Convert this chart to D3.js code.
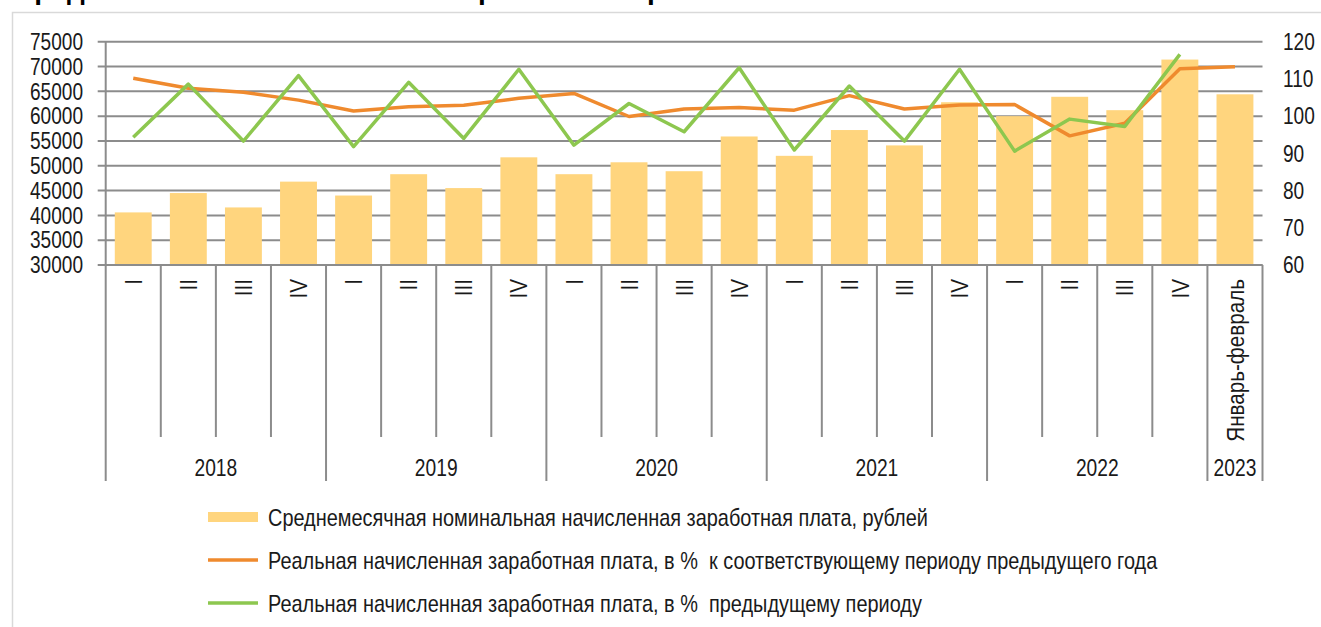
<!DOCTYPE html>
<html lang="ru">
<head>
<meta charset="utf-8">
<title>Заработная плата</title>
<script src="https://d3js.org/d3.v7.min.js"></script>
<style>
  body{margin:0;background:#fff;}
  svg text{font-family:"Liberation Sans Narrow","Arial Narrow","Liberation Sans",Arial,sans-serif;fill:#1a1a1a;white-space:pre;}
</style>
</head>
<body>
<div id="chart"></div>
<script>
// data
var categories = ["I","II","III","IV","I","II","III","IV","I","II","III","IV",
                  "I","II","III","IV","I","II","III","IV","Январь-февраль"]
var years = ["2018","2019","2020","2021","2022","2023"]
var yearSpan = [4,4,4,4,4,1]
var nominalWage = [40600,44500,41600,46800,44000,48300,45500,51700,48300,50700,48900,55900,
                   52000,57200,54100,62800,60000,63900,61200,71400,64400]
var realYoY = [110.2,107.5,106.4,104.3,101.4,102.5,102.9,104.8,106.1,99.9,101.9,102.3,
               101.6,105.5,101.9,103.0,103.1,94.7,98.1,112.7,113.3]
var realQoQ = [94.3,108.6,93.3,110.9,91.8,109.1,94.0,112.6,92.2,103.4,95.8,113.0,
               90.9,108.1,93.3,112.6,90.6,99.2,97.2,116.6,null]
var leftTicks = [30000,35000,40000,45000,50000,55000,60000,65000,70000,75000]
var rightTicks = [60,70,80,90,100,110,120]
var legendLabels = ["Среднемесячная номинальная начисленная заработная плата, рублей",
                    "Реальная начисленная заработная плата, в %  к соответствующему периоду предыдущего года",
                    "Реальная начисленная заработная плата, в %  предыдущему периоду"]

var W = 1321, H = 627
var plotL = 105.7, plotR = 1262.5, plotT = 41.7, plotB = 265
var barColor = "#FFD57E", orange = "#EF8A2E", green = "#8DC74F", gridColor = "#8c8c8c"

var svg = d3.select("#chart").append("svg").attr("width",W).attr("height",H)

// cut-off title (only its lower edge shows) and frame
svg.append("text").attr("x",14).attr("y",-1)
    .style("font-family","'Liberation Sans',Arial,sans-serif")
    .style("font-weight","bold").style("font-size","28px").style("fill","#000")
    .text("Среднемесячная номинальная и реальная заработная плата")
svg.append("rect").attr("x",12.5).attr("y",12.5).attr("width",1400).attr("height",700)
    .attr("fill","none").attr("stroke","#d9d9d9").attr("stroke-width",1.5)

var x = d3.scaleBand().domain(d3.range(categories.length)).range([plotL,plotR]).padding(0)
var yL = d3.scaleLinear().domain([30000,75000]).range([plotB,plotT])
var yR = d3.scaleLinear().domain([60,120]).range([plotB,plotT])
var bw = x.bandwidth()*0.67

// condensed look of the original font
function narrow(sel,tx,ty,rot,sx){
    sel.attr("transform","translate("+tx+","+ty+")"+(rot?" rotate("+rot+")":"")+" scale("+(sx||0.8)+",1)")
}

// gridlines
svg.append("g").selectAll("line").data(leftTicks).enter().append("line")
    .attr("x1",plotL-8).attr("x2",plotR)
    .attr("y1",function(d){return yL(d)}).attr("y2",function(d){return yL(d)})
    .attr("stroke",gridColor).attr("stroke-width",2)

// left labels
svg.append("g").selectAll("text").data(leftTicks).enter().append("text")
    .each(function(d){ narrow(d3.select(this),83,yL(d),0,0.83) })
    .attr("text-anchor","end").attr("dy","0.36em")
    .style("font-size","23px")
    .text(function(d){return d})

// right labels
svg.append("g").selectAll("text").data(rightTicks).enter().append("text")
    .each(function(d){ narrow(d3.select(this),1283,yR(d),0,0.83) })
    .attr("dy","0.36em").style("font-size","23px")
    .text(function(d){return d})

// bars
svg.append("g").selectAll("rect").data(nominalWage).enter().append("rect")
    .attr("x",function(d,i){return x(i)+(x.bandwidth()-bw)/2})
    .attr("width",bw)
    .attr("y",function(d){return yL(d)})
    .attr("height",function(d){return plotB-yL(d)})
    .attr("fill",barColor)

// axis lines
svg.append("line").attr("x1",plotL).attr("x2",plotL).attr("y1",plotT).attr("y2",plotB)
    .attr("stroke",gridColor).attr("stroke-width",2)
svg.append("line").attr("x1",plotL).attr("x2",plotR).attr("y1",plotB).attr("y2",plotB)
    .attr("stroke",gridColor).attr("stroke-width",2)

// category separators
var yearStart = [0]
yearSpan.forEach(function(n,i){ yearStart.push(yearStart[i]+n) })
var bounds = d3.range(categories.length+1)
function edge(i){ return i==categories.length ? plotR : x(i) }
svg.append("g").selectAll("line").data(bounds).enter().append("line")
    .attr("x1",edge).attr("x2",edge)
    .attr("y1",plotB)
    .attr("y2",function(d){return yearStart.indexOf(d)>=0 ? 481 : 437})
    .attr("stroke",gridColor).attr("stroke-width",2)

// category labels (vertical)
svg.append("g").selectAll("text").data(categories).enter().append("text")
    .each(function(d,i){ narrow(d3.select(this),x(i)+x.bandwidth()/2,279,-90,0.86) })
    .attr("text-anchor","end").attr("dy","0.36em")
    .style("font-size","24px")
    .text(function(d){return d})

// year labels
svg.append("g").selectAll("text").data(years).enter().append("text")
    .each(function(d,i){ narrow(d3.select(this),(edge(yearStart[i])+edge(yearStart[i+1]))/2,476) })
    .attr("text-anchor","middle")
    .style("font-size","24px")
    .text(function(d){return d})

// lines
var line = d3.line()
    .defined(function(d){return d!=null})
    .x(function(d,i){return x(i)+x.bandwidth()/2})
    .y(function(d){return yR(d)})
svg.append("path").datum(realYoY).attr("d",line)
    .attr("fill","none").attr("stroke",orange).attr("stroke-width",3.5).attr("stroke-linejoin","round")
svg.append("path").datum(realQoQ).attr("d",line)
    .attr("fill","none").attr("stroke",green).attr("stroke-width",3.5).attr("stroke-linejoin","round")

// legend
var legendY = [517,560,603]
var leg = svg.append("g").selectAll("g").data(legendLabels).enter().append("g")
    .attr("transform",function(d,i){return "translate(208,"+legendY[i]+")"})
leg.each(function(d,i){
    var g = d3.select(this)
    if(i==0){
        g.append("rect").attr("x",0).attr("y",-5).attr("width",50).attr("height",10).attr("fill",barColor)
    }else{
        g.append("line").attr("x1",0).attr("x2",50).attr("y1",0).attr("y2",0)
         .attr("stroke",i==1?orange:green).attr("stroke-width",3.5)
    }
    g.append("text").attr("dy","0.36em").style("font-size","24px")
     .each(function(){ narrow(d3.select(this),60,0,0,0.83) })
     .text(d)
})
</script>
</body>
</html>
